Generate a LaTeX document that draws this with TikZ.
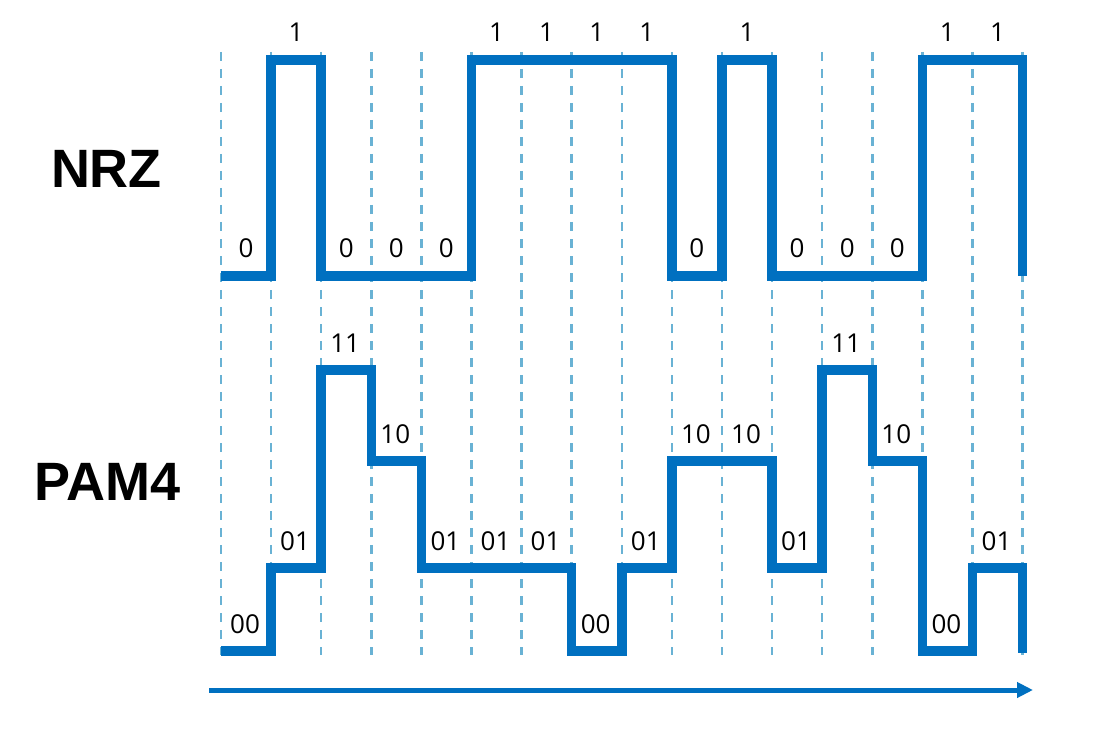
\documentclass[tikz,border=0pt]{standalone}
\usepackage{fontspec}
\setmainfont{Open Sans}
\newfontfamily\titlefont{Liberation Sans}
\usetikzlibrary{arrows.meta}

\definecolor{waveblue}{RGB}{0,112,192}
\definecolor{gridblue}{RGB}{105,178,212}

\tikzset{
  wave/.style={line width=9.5pt, draw=waveblue, line join=miter},
  gridline/.style={draw=gridblue, line width=2.5pt, dash pattern=on 9pt off 8pt},
  bit/.style={anchor=base, inner sep=0pt, font=\fontsize{26}{26}\selectfont},
  title/.style={anchor=base, inner sep=0pt, font=\titlefont\bfseries\fontsize{54}{54}\selectfont},
  timearrow/.style={line width=5pt, draw=waveblue, -{Triangle[length=16pt,width=15pt]}},
}

\begin{document}
\begin{tikzpicture}[x=1pt,y=-1pt]
    \useasboundingbox (0,0) rectangle (1100,730);

    % bit boundaries
    \foreach \i in {0,...,16}
      \draw[gridline] ({221+50.1*\i},52) -- ({221+50.1*\i},655);

    \node[title] (nrz)  at (106.5,188) {NRZ};
    \node[title] (pam4) at (107.5,500) {PAM4};

    % NRZ
    \draw[wave] (221,276)
      \foreach \lv [count=\i] in {276,60,276,276,276,60,60,60,60,276,60,276,276,276,60,60}
        { |- ({221+50.1*\i},\lv) } -- ++(0,216);
    \foreach \b [count=\i from 0] in {0,1,0,0,0,1,1,1,1,0,1,0,0,0,1,1} {
      \pgfmathsetmacro\lv{\b==1 ? 60 : 276}
      \node[bit] (nrz\i) at ({246+50.1*\i},{\lv-18}) {\b};
    }

    % PAM4
    \draw[wave] (221,651)
      \foreach \lv [count=\i] in {651,568,370,461,568,568,568,651,568,461,461,568,370,461,651,568}
        { |- ({221+50.1*\i},\lv) } -- ++(0,85);
    \foreach \s/\lv [count=\i from 0] in {00/651,01/568,11/370,10/461,01/568,01/568,01/568,00/651,
                                           01/568,10/461,10/461,01/568,11/370,10/461,00/651,01/568}
      \node[bit] (pam\i) at ({245+50.1*\i},{\lv-18}) {\s};

    % time axis
    \coordinate (tstart) at (209,690);
    \coordinate (tend)   at (1033,690);
    \draw[timearrow] (tstart) -- (tend);
  \end{tikzpicture}
\end{document}
